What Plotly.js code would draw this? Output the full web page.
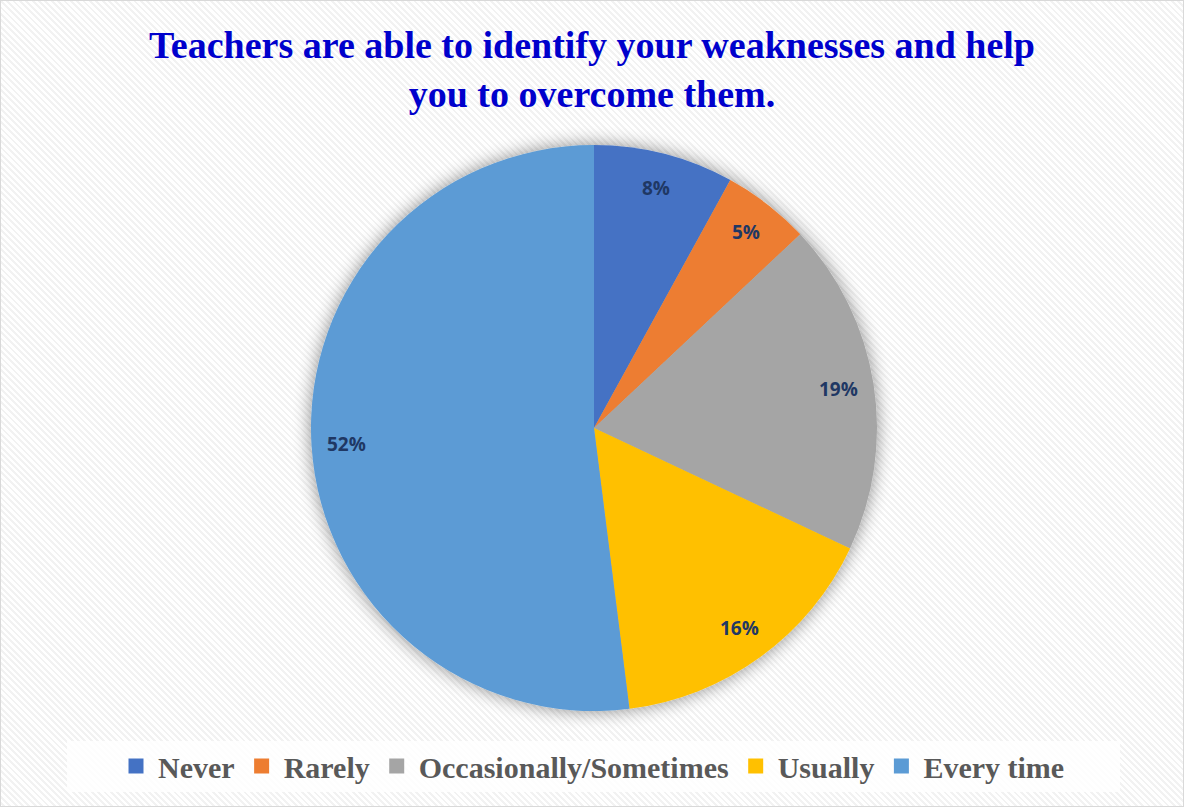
<!DOCTYPE html>
<html>
<head>
<meta charset="utf-8">
<script src="https://cdn.plot.ly/plotly-3.0.1.min.js"></script>
<style>
html,body{margin:0;padding:0;}
body{width:1184px;height:807px;overflow:hidden;
background:repeating-linear-gradient(45deg,#ffffff 0px,#ffffff 2.5px,#f2f2f2 2.5px,#f2f2f2 4.5px);}
#frame{position:absolute;left:0;top:0;width:1182px;height:805px;border:1px solid #d9d9d9;}
#chart{position:absolute;left:0;top:0;width:1184px;height:807px;}
</style>
</head>
<body>
<div id="frame"></div>
<div id="chart"></div>
<script>
const categories = ["Never", "Rarely", "Occasionally/Sometimes", "Usually", "Every time"];
const values = [8, 5, 19, 16, 52];
const colors = ["#4472C4", "#ED7D31", "#A5A5A5", "#FFC000", "#5B9BD5"];
const titleText = "Teachers are able to identify your weaknesses and help<br>you to overcome them.";

const W = 1184, H = 807;
const cxPx = 594, cyPx = 428, rPx = 283;
const dom = {
  x: [(cxPx - rPx) / W, (cxPx + rPx) / W],
  y: [1 - (cyPx + rPx) / H, 1 - (cyPx - rPx) / H]
};

// label annotations placed from the data angles
const total = values.reduce((a, b) => a + b, 0);
let cum = 0;
const annotations = [];
values.forEach((v, i) => {
  const mid = (cum + v / 2) / total * 2 * Math.PI;
  cum += v;
  const rr = 0.875 * rPx;
  const px = cxPx + rr * Math.sin(mid);
  const py = cyPx - rr * Math.cos(mid);
  annotations.push({
    x: px / W, y: 1 - py / H, xref: "paper", yref: "paper",
    xanchor: "center", yanchor: "middle",
    text: v + "%", showarrow: false,
    font: {family: "Open Sans, sans-serif", size: 19, weight: "bold", color: "#1F3864"}
  });
});

annotations.push({
  x: 0.5, y: 1 - 22 / H, xref: "paper", yref: "paper",
  xanchor: "center", yanchor: "top", showarrow: false,
  text: titleText,
  font: {family: "Liberation Serif, Times New Roman, serif", size: 38, weight: "bold", color: "#0000CC"}
});

const data = [{
  type: "pie",
  labels: categories,
  values: values,
  sort: false,
  direction: "clockwise",
  rotation: 0,
  marker: {colors: colors, line: {color: "#ffffff", width: 0}},
  textinfo: "none",
  hoverinfo: "label+percent",
  domain: dom
}];

const layout = {
  width: W, height: H,
  margin: {l: 0, r: 0, t: 0, b: 0},
  paper_bgcolor: "rgba(0,0,0,0)",
  plot_bgcolor: "rgba(0,0,0,0)",
  showlegend: true,
  legend: {
    orientation: "h", x: 0.5, xanchor: "center", y: 1 - 766 / H, yanchor: "middle",
    bgcolor: "rgba(0,0,0,0)",
    itemwidth: 34,
    font: {family: "Liberation Serif, Times New Roman, serif", size: 30, weight: "bold", color: "#595959"},
    traceorder: "normal"
  },
  shapes: [{
    type: "rect", xref: "paper", yref: "paper", layer: "below",
    x0: 67 / W, x1: 1120 / W, y0: 1 - 792 / H, y1: 1 - 741 / H,
    fillcolor: "rgba(255,255,255,0.85)", line: {width: 0}
  }],
  annotations: annotations
};

Plotly.newPlot("chart", data, layout, {displayModeBar: false, staticPlot: true}).then(gd => {
  // soft shadow behind the pie
  const svg = gd.querySelector("svg.main-svg");
  const ns = "http://www.w3.org/2000/svg";
  let defs = svg.querySelector("defs");
  if (!defs) { defs = document.createElementNS(ns, "defs"); svg.insertBefore(defs, svg.firstChild); }
  const f = document.createElementNS(ns, "filter");
  f.setAttribute("id", "pieShadow");
  f.setAttribute("x", "-20%"); f.setAttribute("y", "-20%");
  f.setAttribute("width", "140%"); f.setAttribute("height", "140%");
  f.innerHTML = '<feGaussianBlur in="SourceAlpha" stdDeviation="9"/>' +
    '<feComponentTransfer><feFuncA type="linear" slope="0.45"/></feComponentTransfer>' +
    '<feMerge><feMergeNode/><feMergeNode in="SourceGraphic"/></feMerge>';
  defs.appendChild(f);
  const pl = svg.querySelector(".pielayer");
  if (pl) pl.setAttribute("filter", "url(#pieShadow)");
  // slightly larger legend swatches
  gd.querySelectorAll(".legend .legendpoints path").forEach(p => {
    const t = p.getAttribute("transform") || "";
    p.setAttribute("transform", t + " scale(1.25)");
  });
});
</script>
</body>
</html>
